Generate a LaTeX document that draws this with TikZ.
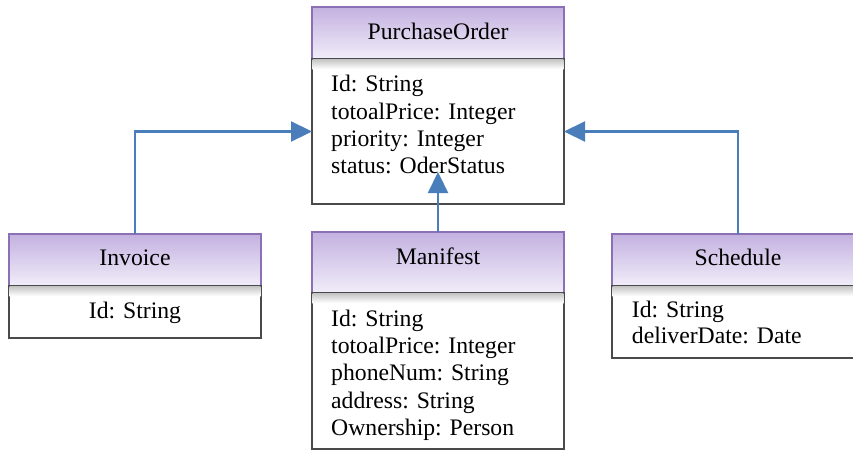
\documentclass[tikz,border=0pt]{standalone}
\usepackage{fontspec}
\setmainfont{Liberation Serif}
\usetikzlibrary{arrows.meta,calc}

\definecolor{hdtop}{HTML}{C3B1E0}
\definecolor{hdbot}{HTML}{F1EDF9}
\definecolor{hdline}{HTML}{8B70B5}
\definecolor{boxline}{HTML}{4A4A4A}
\definecolor{link}{HTML}{4A7EBB}

\tikzset{
  umltext/.style={font=\fontsize{23.7}{27.4}\selectfont, inner sep=0pt, text=black},
  classhead/.style={draw=hdline, line width=1.3pt, top color=hdtop, bottom color=hdbot,
    inner sep=0pt, outer sep=0pt, anchor=north west, minimum width=252pt, minimum height=#1},
  classbody/.style={draw=boxline, line width=1.1pt, fill=white,
    inner sep=0pt, outer sep=0pt, anchor=north west, minimum width=252pt, minimum height=#1},
  headshadow/.style={top color=black!22, bottom color=white, draw=none},
  conn/.style={draw=link, line width=2.2pt, -{Triangle[length=21pt,width=20pt]}},
}

% soft shadow band right under a class header
\newcommand{\shadowband}[1]{%
  \path[headshadow] ([xshift=0.6pt,yshift=-0.6pt]#1.north west) rectangle ([xshift=-0.6pt,yshift=-10pt]#1.north east);}

\begin{document}
\begin{tikzpicture}[x=1pt,y=-1pt]
\useasboundingbox (0,0) rectangle (853,450);

% PurchaseOrder
\node[classhead=52pt] (po-h) at (312,7) {};
\node[classbody=145pt] (po-b) at (312,59) {};
\shadowband{po-b}
\node[umltext, anchor=base] (po-t) at (438,39.3) {PurchaseOrder};
\foreach \t [count=\i] in {Id: String, totoalPrice: Integer, priority: Integer, status: OderStatus}
  \node[umltext, anchor=base west] (po-a\i) at ({331},{64.3+27.4*\i}) {\t};

% Invoice
\node[classhead=52pt] (inv-h) at (9,234) {};
\node[classbody=52pt] (inv-b) at (9,286) {};
\shadowband{inv-b}
\node[umltext, anchor=base] (inv-t) at (135,265.7) {Invoice};
\node[umltext, anchor=base] (inv-a1) at (135,318.3) {Id: String};

% Manifest
\node[classhead=61pt] (man-h) at (312,232) {};
\node[classbody=156pt] (man-b) at (312,293) {};
\shadowband{man-b}
\node[umltext, anchor=base] (man-t) at (438,264.3) {Manifest};
\foreach \t [count=\i] in {Id: String, totoalPrice: Integer, phoneNum: String, address: String, Ownership: Person}
  \node[umltext, anchor=base west] (man-a\i) at ({331},{299.6+27.1*\i}) {\t};

% Schedule
\node[classhead=52pt] (sch-h) at (612,234) {};
\node[classbody=72pt] (sch-b) at (612,286) {};
\shadowband{sch-b}
\node[umltext, anchor=base] (sch-t) at (738,265.7) {Schedule};
\node[umltext, anchor=base west] (sch-a1) at (631.7,317.3) {Id: String};
\node[umltext, anchor=base west] (sch-a2) at (631.7,343.3) {deliverDate: Date};

% generalisation links
\coordinate (mtip) at ($(po-b.south)+(0,-32)$);
\draw[conn] (inv-h.north) |- (po-b.west);
\draw[conn] (sch-h.north) |- (po-b.east);
\draw[conn] (man-h.north) -- (mtip);
\end{tikzpicture}
\end{document}
